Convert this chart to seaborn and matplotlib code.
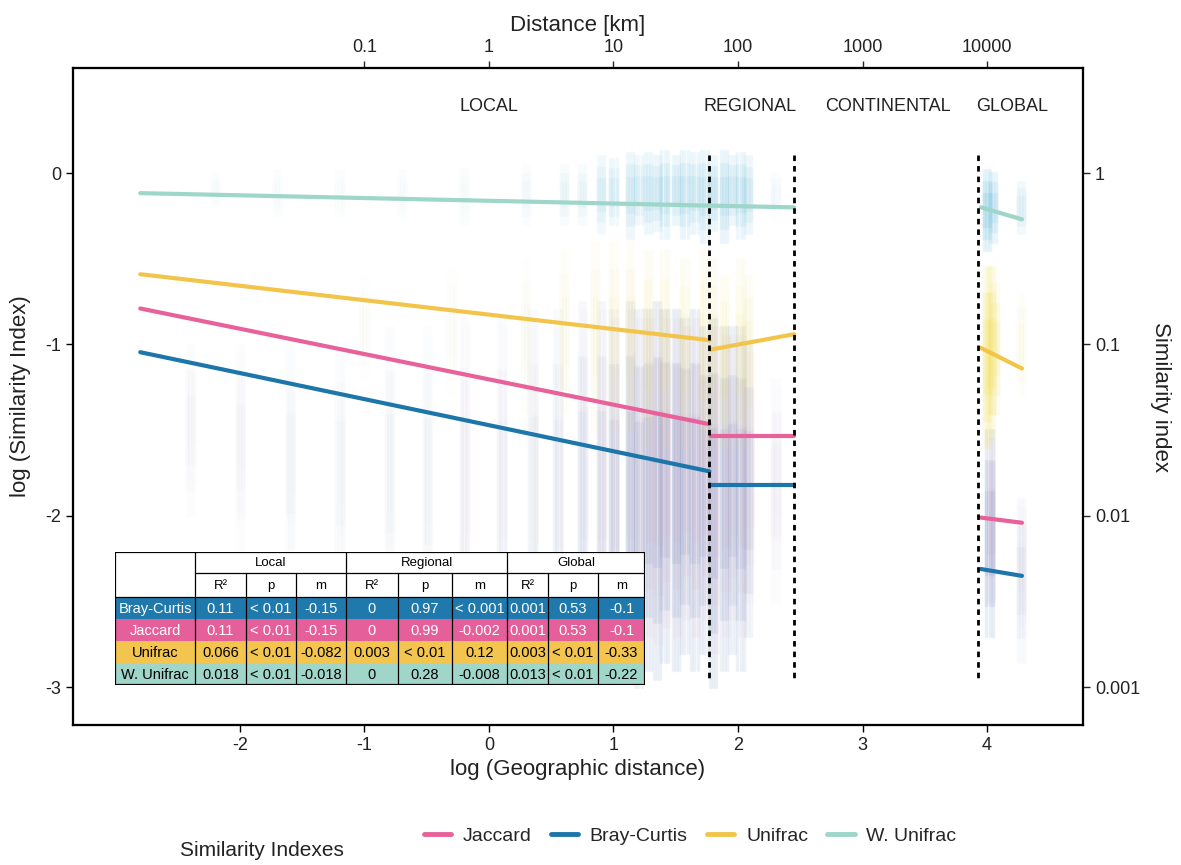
import numpy as np
import pandas as pd
import matplotlib
matplotlib.use("Agg")
import matplotlib.pyplot as plt
from matplotlib.lines import Line2D
from matplotlib.patches import Rectangle
import seaborn as sns

sns.set_theme(style="white")
plt.rcParams['font.family'] = ['Liberation Sans', 'DejaVu Sans']

# ---------------- data ----------------
indexes = ["Jaccard", "Bray-Curtis", "Unifrac", "W. Unifrac"]
colors = {"Jaccard": "#E8619A", "Bray-Curtis": "#1C76A9",
          "Unifrac": "#F2C54A", "W. Unifrac": "#9ED6C9"}
cloud_colors = {"Jaccard": "#E08AAE", "Bray-Curtis": "#6A8FC4",
                "Unifrac": "#F5E15A", "W. Unifrac": "#7EC6E2"}

# fitted regression segments (log10 distance -> log10 similarity)
local_x = [-2.8, 1.77]
regional_x = [1.78, 2.45]
global_x = [3.95, 4.28]
local_y = {"Jaccard": [-0.79, -1.465], "Bray-Curtis": [-1.045, -1.74],
           "Unifrac": [-0.59, -0.975], "W. Unifrac": [-0.117, -0.19]}
regional_y = {"Jaccard": [-1.535, -1.535], "Bray-Curtis": [-1.82, -1.82],
              "Unifrac": [-1.03, -0.94], "W. Unifrac": [-0.19, -0.20]}
global_y = {"Jaccard": [-2.01, -2.04], "Bray-Curtis": [-2.31, -2.35],
            "Unifrac": [-1.02, -1.14], "W. Unifrac": [-0.20, -0.27]}

# point clouds read as vertical streaks: x, low y, high y, opacity
wu_cloud_x = [-2.2, -1.7, -1.2, -0.7, -0.2, 0.3, 0.6, 0.75, 0.9, 1.0, 1.13, 1.2, 1.28, 1.35,
              1.41, 1.5, 1.57, 1.65, 1.73, 1.8, 1.89, 1.95, 2.02, 2.08, 2.3, 4.0, 4.05, 4.27]
wu_cloud_lo = [-0.2, -0.25, -0.25, -0.25, -0.3, -0.3, -0.3, -0.3, -0.35, -0.3, -0.38, -0.3, -0.35, -0.33,
               -0.38, -0.3, -0.38, -0.35, -0.4, -0.33, -0.4, -0.3, -0.38, -0.35, -0.25, -0.45, -0.4, -0.35]
wu_cloud_hi = [0.0, 0.02, 0.02, 0.02, 0.03, 0.05, 0.05, 0.05, 0.1, 0.08, 0.12, 0.1, 0.12, 0.1,
               0.13, 0.1, 0.13, 0.12, 0.13, 0.1, 0.13, 0.1, 0.12, 0.1, 0.0, 0.02, 0.0, -0.05]
wu_alpha = [0.04, 0.04, 0.04, 0.05, 0.05, 0.07, 0.12, 0.14, 0.25, 0.28, 0.3, 0.28, 0.34, 0.3,
            0.36, 0.34, 0.38, 0.36, 0.38, 0.36, 0.38, 0.3, 0.36, 0.3, 0.08, 0.55, 0.4, 0.22]
uf_cloud_x = [-1.0, -0.3, 0.3, 0.6, 0.85, 1.0, 1.13, 1.28, 1.41, 1.57, 1.73, 1.8, 1.89, 2.02, 2.08,
              4.0, 4.03, 4.06, 4.27]
uf_cloud_lo = [-1.2, -1.3, -1.4, -1.4, -1.5, -1.5, -1.5, -1.6, -1.6, -1.6, -1.7, -1.6, -1.6, -1.6, -1.5,
               -1.6, -1.55, -1.4, -1.3]
uf_cloud_hi = [-0.6, -0.55, -0.5, -0.45, -0.4, -0.4, -0.4, -0.45, -0.45, -0.5, -0.45, -0.5, -0.6, -0.5, -0.6,
               -0.55, -0.55, -0.65, -0.7]
uf_alpha = [0.03, 0.03, 0.05, 0.08, 0.1, 0.12, 0.14, 0.16, 0.16, 0.18, 0.18, 0.15, 0.18, 0.16, 0.15,
            0.45, 0.4, 0.28, 0.08]
bc_cloud_x = [-2.4, -2.0, -1.6, -1.2, -0.8, -0.5, -0.2, 0.1, 0.35, 0.55, 0.75, 0.9, 1.0, 1.13,
              1.2, 1.28, 1.35, 1.41, 1.5, 1.57, 1.65, 1.73, 1.8, 1.89, 1.95, 2.02, 2.08, 2.3,
              4.02, 4.27]
bc_cloud_lo = [-2.0, -2.2, -2.4, -2.5, -2.6, -2.7, -2.8, -2.85, -2.9, -2.95, -2.9, -2.9, -2.95, -2.9,
               -3.0, -2.9, -2.95, -2.85, -2.9, -2.8, -2.9, -2.8, -3.0, -2.9, -2.8, -2.9, -2.7, -2.5,
               -2.7, -2.85]
bc_cloud_hi = [-1.0, -1.0, -1.0, -1.0, -0.9, -0.9, -0.85, -0.85, -0.8, -0.8, -0.75, -0.75, -0.8, -0.75,
               -0.8, -0.8, -0.75, -0.8, -0.8, -0.85, -0.8, -0.9, -0.85, -0.9, -0.9, -0.9, -1.0, -1.2,
               -1.5, -1.9]
bc_alpha = [0.03, 0.03, 0.04, 0.04, 0.05, 0.05, 0.06, 0.07, 0.08, 0.1, 0.13, 0.16, 0.24, 0.28,
            0.28, 0.32, 0.32, 0.36, 0.36, 0.36, 0.36, 0.36, 0.36, 0.32, 0.28, 0.32, 0.24, 0.06,
            0.4, 0.12]

x_ticks = [-2, -1, 0, 1, 2, 3, 4]
y_ticks = [0, -1, -2, -3]
right_labels = ["1", "0.1", "0.01", "0.001"]
top_ticks = [-1, 0, 1, 2, 3, 4]
top_labels = ["0.1", "1", "10", "100", "1000", "10000"]
boundaries = [1.77, 2.45, 3.93]
scale_names = ["LOCAL", "REGIONAL", "CONTINENTAL", "GLOBAL"]
scale_pos = [0.0, 2.1, 3.2, 4.2]

table_groups = ["Local", "Regional", "Global"]
table_sub = ["R²", "p", "m"]
table_rows = ["Bray-Curtis", "Jaccard", "Unifrac", "W. Unifrac"]
table_vals = [
    ["0.11", "< 0.01", "-0.15", "0", "0.97", "< 0.001", "0.001", "0.53", "-0.1"],
    ["0.11", "< 0.01", "-0.15", "0", "0.99", "-0.002", "0.001", "0.53", "-0.1"],
    ["0.066", "< 0.01", "-0.082", "0.003", "< 0.01", "0.12", "0.003", "< 0.01", "-0.33"],
    ["0.018", "< 0.01", "-0.018", "0", "0.28", "-0.008", "0.013", "< 0.01", "-0.22"],
]
row_fill = {"Bray-Curtis": "#2079AD", "Jaccard": "#E5609A", "Unifrac": "#F3C54E", "W. Unifrac": "#9FD6C9"}
row_text = {"Bray-Curtis": "white", "Jaccard": "white", "Unifrac": "black", "W. Unifrac": "black"}

# ---------------- figure ----------------
fig = plt.figure(figsize=(11.81, 8.65), dpi=100)
ax = fig.add_axes([73 / 1181, 1 - 725 / 865, 1010 / 1181, 657 / 865])


def streaks(xs, los, his, alphas, color, lw):
    # each streak drawn as nested, fading layers around a few small side offsets
    for xv, lo, hi, a in zip(xs, los, his, alphas):
        mid, half = (lo + hi) / 2, (hi - lo) / 2
        for off in (-0.025, 0.0, 0.025):
            for frac, af in ((1.0, 0.35), (0.7, 0.35), (0.4, 0.35)):
                ax.vlines(xv + off, mid - half * frac, mid + half * frac, colors=color,
                          linewidth=lw, alpha=min(a * af, 1), zorder=1,
                          capstyle="round")


streaks(bc_cloud_x, bc_cloud_lo, bc_cloud_hi, bc_alpha, cloud_colors["Bray-Curtis"], 2.5)
streaks([v + 0.012 for v in bc_cloud_x], [v + 0.2 for v in bc_cloud_lo],
        [v - 0.05 for v in bc_cloud_hi], [a * 0.5 for a in bc_alpha], cloud_colors["Jaccard"], 2.0)
streaks(uf_cloud_x, uf_cloud_lo, uf_cloud_hi, uf_alpha, cloud_colors["Unifrac"], 2.5)
streaks(wu_cloud_x, wu_cloud_lo, wu_cloud_hi, wu_alpha, cloud_colors["W. Unifrac"], 2.5)

# regression segments via seaborn
rows = []
for seg, (xs, ys) in {"local": (local_x, local_y), "regional": (regional_x, regional_y),
                      "global": (global_x, global_y)}.items():
    for name in indexes:
        for xv, yv in zip(xs, ys[name]):
            rows.append({"index": name, "segment": seg + name, "x": xv, "y": yv})
df = pd.DataFrame(rows)
sns.lineplot(data=df, x="x", y="y", hue="index", units="segment", estimator=None,
             palette=colors, hue_order=indexes, linewidth=3, legend=False, ax=ax, zorder=3)

for b in boundaries:
    ax.plot([b, b], [0.105, -2.96], color="black", lw=2, linestyle=(0, (2.0, 1.8)), zorder=4)

for name, xp in zip(scale_names, scale_pos):
    ax.text(xp, 0.39, name, ha="center", va="center", fontsize=13, color="#222222")

ax.set_xlim(-3.34, 4.77)
ax.set_ylim(-3.22, 0.613)
ax.set_xticks(x_ticks)
ax.set_xticklabels([str(t) for t in x_ticks])
ax.set_yticks(y_ticks)
ax.set_yticklabels([str(t) for t in y_ticks])
ax.tick_params(axis="both", which="both", direction="out", length=5, width=1, labelsize=13,
               colors="black", labelcolor="#222222", left=True, bottom=True)
ax.set_xlabel("log (Geographic distance)", fontsize=16, color="#222222", labelpad=4)
ax.set_ylabel("log (Similarity Index)", fontsize=16, color="#222222", labelpad=10)
for sp in ax.spines.values():
    sp.set_visible(True)
    sp.set_color("black")
    sp.set_linewidth(1.5)
ax.grid(False)

ax_r = ax.twinx()
ax_r.set_ylim(ax.get_ylim())
ax_r.set_yticks(y_ticks)
ax_r.set_yticklabels(right_labels)
ax_r.tick_params(axis="y", direction="out", length=5, width=1, labelsize=13, right=True,
                 labelcolor="#222222")
ax_r.set_ylabel("Similarity index", fontsize=16, rotation=-90, labelpad=22, color="#222222")
ax_r.grid(False)

ax_t = ax.twiny()
ax_t.set_xlim(ax.get_xlim())
ax_t.set_xticks(top_ticks)
ax_t.set_xticklabels(top_labels)
ax_t.tick_params(axis="x", direction="out", length=5, width=1, labelsize=13, top=True,
                 labelcolor="#222222")
ax_t.set_xlabel("Distance [km]", fontsize=16, color="#222222", labelpad=6)
ax_t.grid(False)
for a2 in (ax_r, ax_t):
    for sp in a2.spines.values():
        sp.set_linewidth(1.5)
        sp.set_color("black")

# ---------------- table ----------------
tx0, tx1, ty0, ty1 = 115, 645, 552, 685
tab = fig.add_axes([tx0 / 1181, 1 - ty1 / 865, (tx1 - tx0) / 1181, (ty1 - ty0) / 865], zorder=10)
tab.set_xlim(tx0, tx1)
tab.set_ylim(ty1, ty0)
tab.axis("off")
col_edges = [115, 195, 246, 296, 346, 398, 452, 507, 548, 598, 645]
row_edges = [552, 573, 597, 619, 641, 663, 685]
tab.add_patch(Rectangle((tx0, ty0), tx1 - tx0, ty1 - ty0, facecolor="white", edgecolor="none"))
for r, name in enumerate(table_rows):
    y0, y1 = row_edges[r + 2], row_edges[r + 3]
    tab.add_patch(Rectangle((tx0, y0), tx1 - tx0, y1 - y0, facecolor=row_fill[name], edgecolor="none"))
    cx = (col_edges[0] + col_edges[1]) / 2
    tab.text(cx, (y0 + y1) / 2 + 0.5, name, ha="center", va="center", fontsize=10.5,
             color=row_text[name])
    for c, v in enumerate(table_vals[r]):
        cx = (col_edges[c + 1] + col_edges[c + 2]) / 2
        tab.text(cx, (y0 + y1) / 2 + 0.5, v, ha="center", va="center", fontsize=10.5,
                 color=row_text[name])
for g, name in enumerate(table_groups):
    cx = (col_edges[1 + 3 * g] + col_edges[4 + 3 * g]) / 2
    tab.text(cx, (row_edges[0] + row_edges[1]) / 2 + 0.5, name, ha="center", va="center",
             fontsize=9.5, color="black")
for c in range(9):
    cx = (col_edges[c + 1] + col_edges[c + 2]) / 2
    tab.text(cx, (row_edges[1] + row_edges[2]) / 2 + 0.5, table_sub[c % 3], ha="center",
             va="center", fontsize=9.5, color="black")
for c, xe in enumerate(col_edges[1:-1], start=1):
    top = row_edges[0] if c in (1, 4, 7) else row_edges[1]
    tab.plot([xe, xe], [top, ty1], color="black", lw=0.9)
tab.plot([col_edges[1], tx1], [row_edges[1], row_edges[1]], color="black", lw=0.9)
tab.plot([tx0, tx1], [row_edges[2], row_edges[2]], color="black", lw=0.9)
tab.add_patch(Rectangle((tx0, ty0), tx1 - tx0, ty1 - ty0, facecolor="none", edgecolor="black", lw=1.6))

# ---------------- legend ----------------
handles = [Line2D([0], [0], color=colors[n], lw=3.5) for n in indexes]
fig.legend(handles, indexes, loc="center", bbox_to_anchor=(690 / 1181, 1 - 836 / 865), ncol=4,
           frameon=False, fontsize=14, handlelength=1.4, handletextpad=0.6, columnspacing=1.0)
fig.text(180 / 1181, 1 - 851 / 865, "Similarity Indexes", ha="left", va="center", fontsize=15,
         color="#222222")

fig.savefig("out.png", dpi=100, facecolor="white")
